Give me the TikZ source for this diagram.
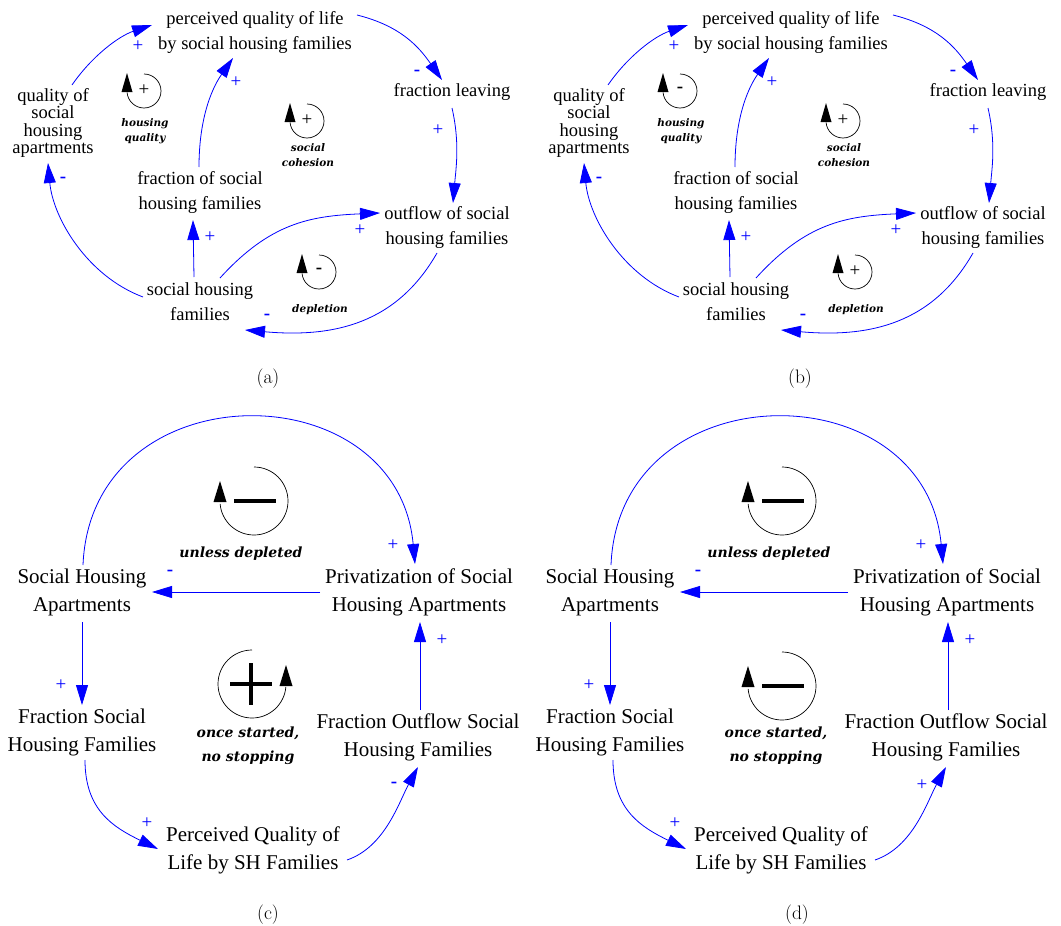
\documentclass[tikz,border=0pt]{standalone}
\usepackage{fontspec}
\newfontfamily\tnr{Liberation Serif}
\newfontfamily\lblf{DejaVu Serif}
\usetikzlibrary{arrows.meta}
\definecolor{linkblue}{RGB}{0,0,255}
\tikzset{
  varA/.style={font=\tnr\fontsize{18.5}{25}\selectfont, align=center, inner sep=0pt},
  varQ/.style={font=\tnr\fontsize{18.5}{17.5}\selectfont, align=center, inner sep=0pt},
  varC/.style={font=\tnr\fontsize{21}{28}\selectfont, align=center, inner sep=0pt},
  link/.style={draw=linkblue, line width=0.8pt, -{Triangle[length=20pt,width=12pt]}},
  pol/.style={text=linkblue, font=\tnr\fontsize{19}{19}\selectfont, inner sep=0pt},
  loopline/.style={draw=black, line width=0.7pt},
  loopsign/.style={font=\tnr\fontsize{19}{19}\selectfont, inner sep=0pt},
  looplblA/.style={font=\lblf\bfseries\itshape\fontsize{10.5}{14.5}\selectfont, align=center, inner sep=0pt},
  looplblC/.style={font=\lblf\bfseries\itshape\fontsize{14}{24}\selectfont, align=center, inner sep=0pt},
  captext/.style={font=\fontsize{19.5}{19.5}\selectfont, inner sep=0pt},
}
% loop symbol, arrow on the left (clockwise): cx cy r halfwidth height
\newcommand\loopL[5]{%
  \draw[loopline] (#1,#2) ++(-90:#3) arc[start angle=-90,end angle=175,radius=#3];
  \fill (#1-#3-#4,#2+1) -- (#1-#3+#4,#2+1) -- (#1-#3,#2+1-#5) -- cycle;}
% loop symbol, arrow on the right (counterclockwise)
\newcommand\loopR[5]{%
  \draw[loopline] (#1,#2) ++(-90:#3) arc[start angle=-90,end angle=-355,radius=#3];
  \fill (#1+#3-#4,#2+2) -- (#1+#3+#4,#2+2) -- (#1+#3,#2+2-#5) -- cycle;}
\newcommand\bigminus[2]{\draw[line width=3.5pt] (#1-20,#2) -- (#1+22,#2);}
\newcommand\bigplus[2]{\draw[line width=3.5pt] (#1-22,#2) -- (#1+20,#2) (#1-1,#2-21) -- (#1-1,#2+21);}

% top panels: #1 prefix, #2 housing quality sign, #3 social cohesion sign, #4 depletion sign
\newcommand\panelTop[4]{%
  \node[varA] (#1pq) at (255,32) {perceived quality of life\\by social housing families};
  \node[varQ] (#1qa) at (53,123) {quality of\\social\\housing\\apartments};
  \node[varA] (#1fl) at (452,92) {fraction leaving};
  \node[varA] (#1fs) at (200,192) {fraction of social\\housing families};
  \node[varA] (#1of) at (447,227) {outflow of social\\housing families};
  \node[varA] (#1sh) at (200,302) {social housing\\families};
  % links
  \draw[link] ([shift={(19,-38)}]#1qa.center) .. controls +(20,-29) and +(-33,11) .. ([shift={(-103,-7)}]#1pq.center);
  \draw[link] ([shift={(-1,-25)}]#1fs.center) .. controls +(0,-45) and +(-23,33) .. ([shift={(-22,26)}]#1pq.center);
  \draw[link] ([shift={(102,-17)}]#1pq.center) .. controls +(44,11) and +(-23,-33) .. ([shift={(-10,-12)}]#1fl.center);
  \draw[link] ([shift={(0,16)}]#1fl.center) .. controls +(8,35) and +(3,-35) .. ([shift={(6,-24)}]#1of.center);
  \draw[link] ([shift={(-6,-25)}]#1sh.center) -- ([shift={(-7,28)}]#1fs.center);
  \draw[link] ([shift={(20,-24)}]#1sh.center) .. controls +(50,-55) and +(-70,3) .. ([shift={(-67,-14)}]#1of.center);
  \draw[link] ([shift={(-10,26)}]#1of.center) .. controls +(-40,70) and +(90,8) .. ([shift={(45,28)}]#1sh.center);
  \draw[link] ([shift={(-57,-5)}]#1sh.center) .. controls +(-56,-21) and +(5,55) .. ([shift={(-5,40)}]#1qa.center);
  % polarities
  \node[pol] (#1p1) at (138,46) {+};
  \node[pol] (#1p2) at (236,82) {+};
  \node[pol] (#1p3) at (417,73) {\textbf{-}};
  \node[pol] (#1p4) at (438,130) {+};
  \node[pol] (#1p5) at (210,237) {+};
  \node[pol] (#1p6) at (360,230) {+};
  \node[pol] (#1p7) at (267,317) {\textbf{-}};
  \node[pol] (#1p8) at (63,180) {\textbf{-}};
  % loops
  \loopL{144}{91}{17}{5.5}{19}
  \node[loopsign] (#1hqs) at (144,90) {#2};
  \node[looplblA] (#1hql) at (145,131) {housing\\quality};
  \loopL{307}{121}{17}{5.5}{19}
  \node[loopsign] (#1scs) at (307,120) {#3};
  \node[looplblA] (#1scl) at (308,155) {social\\cohesion};
  \loopL{319}{272}{17}{5.5}{19}
  \node[loopsign] (#1dps) at (319,271) {#4};
  \node[looplblA] (#1dpl) at (320,310) {depletion};
}

% bottom panels: #1 prefix, #2 lower loop drawing, #3 polarity of PQL -> FOS
\newcommand\panelBottom[3]{%
  \node[varC] (#1sha) at (82,592) {Social Housing\\Apartments};
  \node[varC] (#1pri) at (419,592) {Privatization of Social\\Housing Apartments};
  \node[varC] (#1fsh) at (82,732) {Fraction Social\\Housing Families};
  \node[varC] (#1fos) at (418,737) {Fraction Outflow Social\\Housing Families};
  \node[varC] (#1pql) at (253,850) {Perceived Quality of\\Life by SH Families};
  \draw[link] ([shift={(1,-27)}]#1sha.center) .. controls +(8,-195) and +(-18,-195) .. ([shift={(-4,-28)}]#1pri.center);
  \draw[link] ([shift={(-99,0)}]#1pri.center) -- ([shift={(70,0)}]#1sha.center);
  \draw[link] ([shift={(0,30)}]#1sha.center) -- ([shift={(0,-27)}]#1fsh.center);
  \draw[link] ([shift={(3,28)}]#1fsh.center) .. controls +(0,50) and +(-45,-22) .. ([shift={(-95,-1)}]#1pql.center);
  \draw[link] ([shift={(94,10)}]#1pql.center) .. controls +(38,-13) and +(-19,35) .. ([shift={(0,30)}]#1fos.center);
  \draw[link] ([shift={(2,-27)}]#1fos.center) -- ([shift={(1,30)}]#1pri.center);
  \node[pol] (#1q1) at (393,545) {+};
  \node[pol] (#1q2) at (170,573) {\textbf{-}};
  \node[pol] (#1q3) at (61,685) {+};
  \node[pol] (#1q4) at (147,823) {+};
  \node[pol] (#1q5) at (394,785) {#3};
  \node[pol] (#1q6) at (442,640) {+};
  \loopL{254}{501}{34}{6.5}{21}
  \bigminus{254}{501}
  \node[looplblC] (#1ud) at (241,554) {unless depleted};
  #2
  \node[looplblC] (#1os) at (248,746) {once started,\\no stopping};
}

\begin{document}
\begin{tikzpicture}[x=1pt,y=-1pt]
\useasboundingbox (0,0) rectangle (1061,926);
\fill[white] (0,0) rectangle (1061,926);
\panelTop{a}{+}{+}{\textbf{-}}
\begin{scope}[xshift=536pt]
\panelTop{b}{\textbf{-}}{+}{+}
\end{scope}
\panelBottom{c}{\loopR{252}{684}{34}{6.5}{21}\bigplus{252}{684}}{\textbf{-}}
\begin{scope}[xshift=528pt]
\panelBottom{d}{\loopL{254}{686}{34}{6.5}{21}\bigminus{254}{686}}{+}
\end{scope}
\node[captext] (capa) at (268,379) {(a)};
\node[captext] (capb) at (800,379) {(b)};
\node[captext] (capc) at (268,915) {(c)};
\node[captext] (capd) at (797,915) {(d)};
\end{tikzpicture}
\end{document}
